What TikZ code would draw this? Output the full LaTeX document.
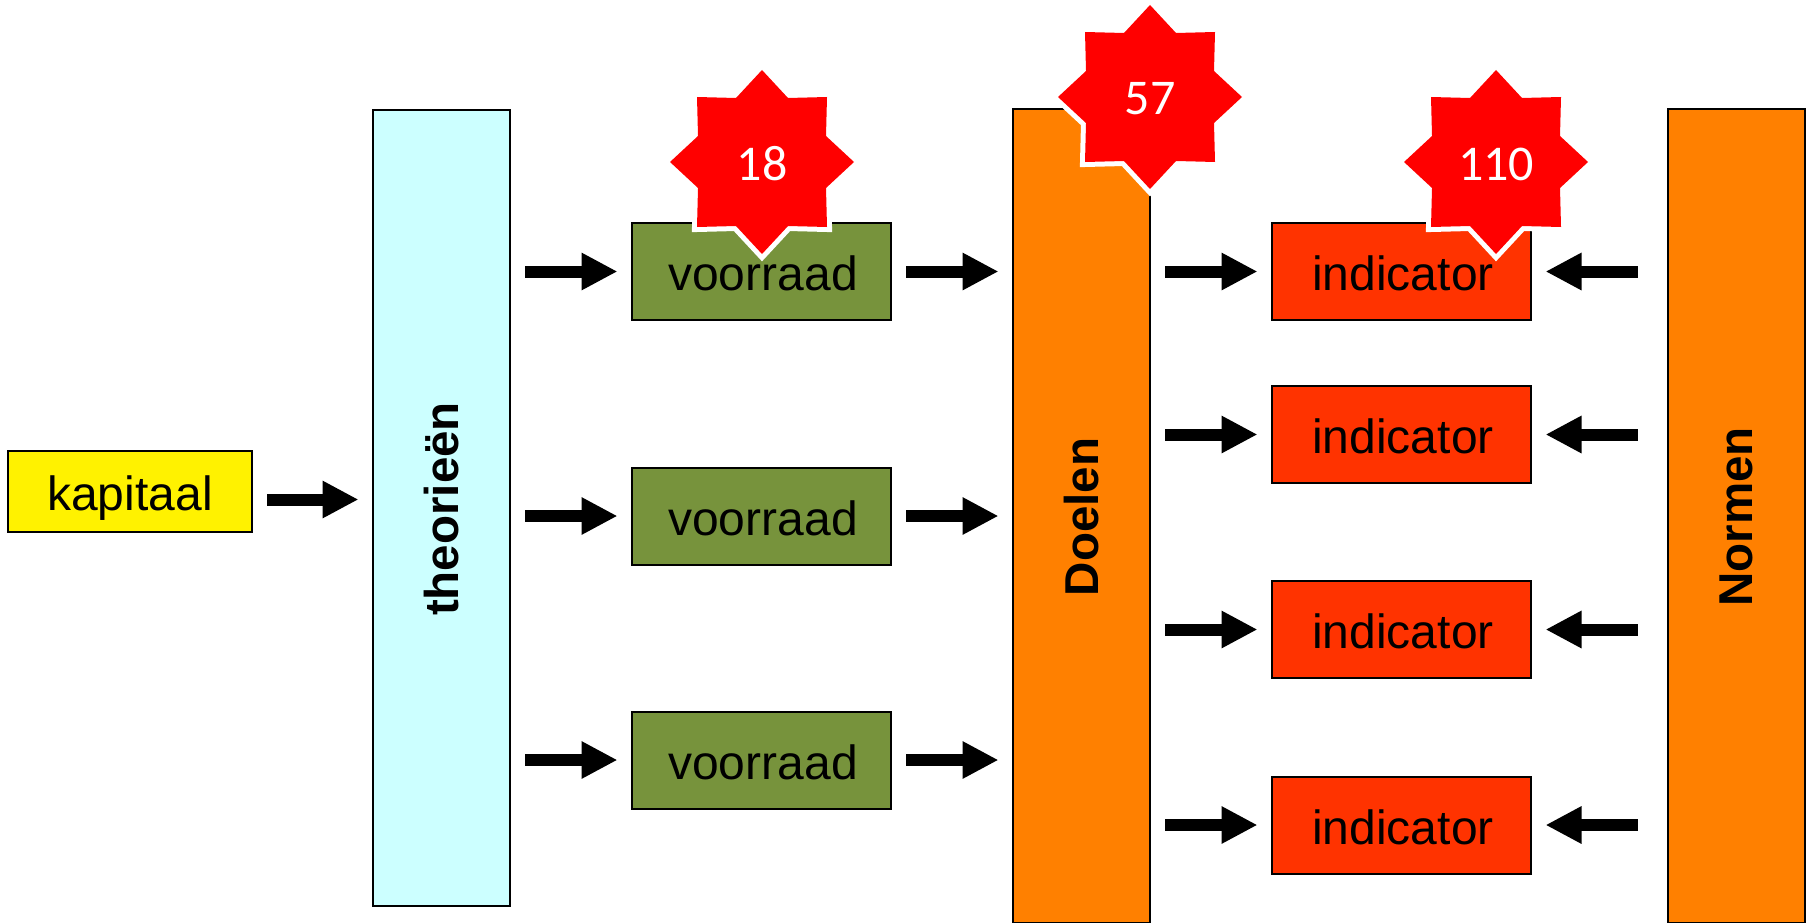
\documentclass[tikz,border=0pt]{standalone}
\usepackage{fontspec}
\setmainfont{Liberation Sans}
\newfontfamily\starfont{Carlito}
\usetikzlibrary{arrows.meta}
\definecolor{stock}{HTML}{77933C}
\definecolor{indic}{HTML}{FF3300}
\definecolor{aim}{HTML}{FF8000}
\definecolor{theory}{HTML}{CCFFFF}
\tikzset{
  box/.style={draw=black,line width=2pt,inner sep=0pt,font=\fontsize{48}{48}\selectfont,text=black,text height=38pt,text depth=0pt},
  wide/.style={box,minimum width=#1,minimum height=97pt},
  yellowbox/.style={box,fill=yellow,minimum width=244pt,minimum height=81pt},
  greenbox/.style={wide=259pt,fill=stock},
  redbox/.style={wide=259pt,fill=indic},
  tallbox/.style={draw=black,line width=2pt,inner sep=0pt,text=black,font=\fontsize{47.5}{48}\selectfont\bfseries,minimum width=137pt},
  flow/.style={line width=12pt,-{Triangle[length=36pt,width=35pt]},shorten <=14pt,shorten >=13.5pt},
  backflow/.style={flow,shorten <=29.5pt,shorten >=13.5pt},
  burstlabel/.style={inner sep=0pt,text=white,font=\starfont\fontsize{50}{50}\selectfont,text height=36pt,text depth=0pt},
  burstshape/.style={insert path={
    (0,-92)--(26,-64)--(65,-65)--(64,-26)--(92,0)--(64,26)--(65,65)--(26,64)--(0,92)
    --(-26,64)--(-65,65)--(-64,26)--(-92,0)--(-64,-26)--(-65,-65)--(-26,-64)--cycle}},
}
\newcommand{\burstat}[4]{%
  \begin{scope}[shift={(#2,#3)}]
    \path[draw=white,fill=white,line width=10pt,burstshape];
    \path[fill=red,burstshape];
    \node[burstlabel] (#1) at (0,0) {#4};
  \end{scope}}
\begin{document}
\begin{tikzpicture}[x=1pt,y=-1pt]
\useasboundingbox (0,0) rectangle (1814,923);
\node[yellowbox] (kap) at (130,491.5) {kapitaal};
\node[tallbox,fill=theory,minimum height=796pt] (theo) at (441.5,508) {\rotatebox{90}{theorieën\kern2pt}};
\node[greenbox] (v1) at (761.5,271.5) {\kern3pt voorraad};
\node[greenbox] (v2) at (761.5,516) {\kern3pt voorraad};
\node[greenbox] (v3) at (761.5,760) {\kern3pt voorraad};
\node[tallbox,fill=aim,minimum height=814pt] (doel) at (1081.5,516) {\rotatebox{90}{Doelen\kern2pt}};
\node[redbox] (i1) at (1401.5,271.5) {\kern3pt indicator};
\node[redbox] (i2) at (1401.5,434.5) {\kern3pt indicator};
\node[redbox] (i3) at (1401.5,629.5) {\kern3pt indicator};
\node[redbox] (i4) at (1401.5,825) {\kern3pt indicator};
\node[tallbox,fill=aim,minimum height=814pt] (norm) at (1736.5,516) {\rotatebox{90}{Normen\kern2pt}};
\draw[flow] ([yshift=-8pt]kap.east) -- ([yshift=-8pt]kap.east -| theo.west);
\foreach \v in {v1,v2,v3}{
  \draw[flow] (\v.west -| theo.east) -- (\v.west);
  \draw[flow] (\v.east) -- (\v.east -| doel.west);
}
\foreach \i in {i1,i2,i3,i4}{
  \draw[flow] (\i.west -| doel.east) -- (\i.west);
  \draw[backflow] (\i.east -| norm.west) -- (\i.east);
}
\burstat{s1}{762}{162}{18}
\burstat{s2}{1150}{97}{57}
\burstat{s3}{1496}{162}{110}
\end{tikzpicture}
\end{document}
